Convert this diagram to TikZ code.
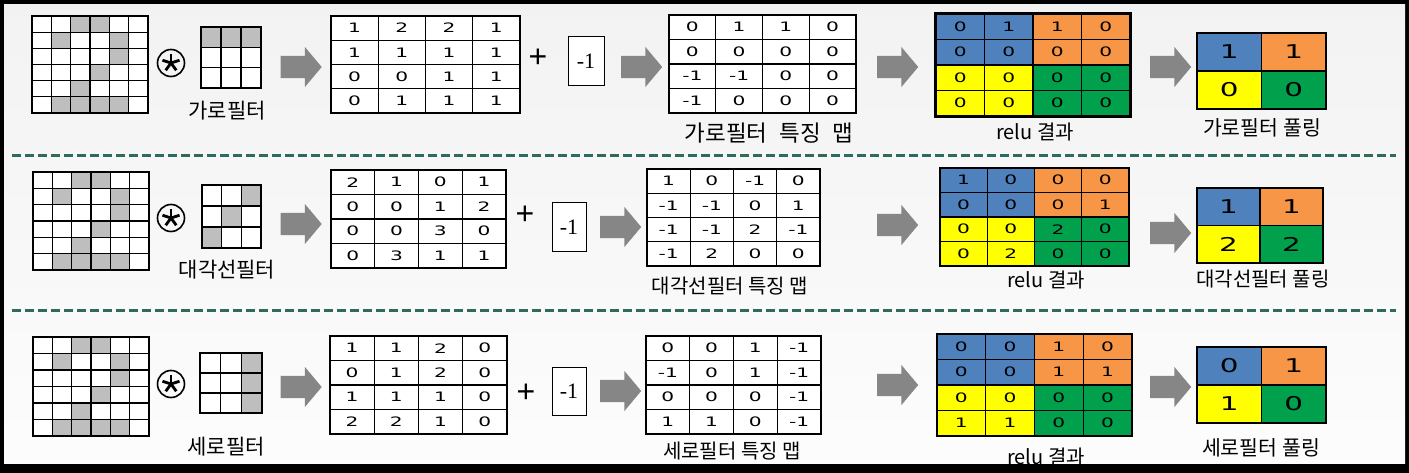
\documentclass[tikz,border=0pt]{standalone}
\usepackage{fontspec}
\setmainfont{Liberation Sans}
\newfontfamily\kofont{Noto Sans CJK KR}
\newfontfamily\numfont[FakeStretch=1.55]{DejaVu Sans}
\newfontfamily\serfont{Liberation Serif}
\usetikzlibrary{shapes.arrows}

\definecolor{pixgray}{HTML}{BEBEBE}
\colorlet{pix0}{white}
\colorlet{pix1}{pixgray}
\definecolor{quad0}{HTML}{4F81BD}
\definecolor{quad1}{HTML}{F79646}
\definecolor{quad2}{HTML}{FFFF00}
\definecolor{quad3}{HTML}{00A04C}
\definecolor{dashteal}{HTML}{2E6B5E}
\definecolor{arrowgray}{HTML}{868686}

\tikzset{
  numcell/.style={draw, line width=1.1pt, inner sep=0pt, fill=white,
    font=\numfont\fontsize{13}{13}\selectfont},
  relucell/.style={numcell, fill=quad\q},
  poolcell/.style={numcell, fill=quad\q, font=\numfont\fontsize{19}{19}\selectfont},
  pixcell/.style={draw, line width=1.1pt, inner sep=0pt},
  lab/.style={font=\kofont\fontsize{21}{21}\selectfont, inner sep=0pt},
  biasbox/.style={draw, line width=1pt, fill=white, inner sep=0pt,
    font=\serfont\fontsize{22}{22}\selectfont},
  plus/.style={font=\fontsize{32}{32}\selectfont, inner sep=0pt},
  convsym/.style={circle, draw, line width=1.6pt, minimum size=27pt, inner sep=0pt},
  blockarrow/.style={single arrow, fill=arrowgray, draw=none, inner xsep=0pt,
    inner ysep=11pt, minimum height=41pt, single arrow head extend=9pt,
    single arrow tip angle=100}
}
\newcommand{\wordgap}[1]{\hspace{#1em}}

% grid of numbers: name, left, top, cell width, cell height, half, style, rows
\newcommand{\numgrid}[8]{%
  \foreach \row [count=\rr] in {#8} {
    \foreach \v [count=\cc] in \row {
      \pgfmathtruncatemacro{\q}{(\rr>#6)*2+(\cc>#6)}
      \node[#7, minimum width=#4pt, minimum height=#5pt] (#1-\rr-\cc)
        at ({#2+(\cc-0.5)*#4}, {#3+(\rr-0.5)*#5}) {\v};
    }
  }
}
% grid of pixels: name, left, top, cell width, cell height, rows of 0/1
\newcommand{\pixgrid}[6]{%
  \foreach \row [count=\rr] in {#6} {
    \foreach \v [count=\cc] in \row {
      \node[pixcell, fill=pix\v, minimum width=#4pt, minimum height=#5pt] (#1-\rr-\cc)
        at ({#2+(\cc-0.5)*#4}, {#3+(\rr-0.5)*#5}) {};
    }
  }
}

\begin{document}
\begin{tikzpicture}[x=1pt, y=-1pt]
	% Frame and background
	\fill[black] (0,0) rectangle (1409,473);
	\shade[top color=gray!10, bottom color=gray!2] (4,5) rectangle (1405,463);

	% Dividers
	\draw[dashteal, line width=3pt, dash pattern=on 9pt off 4pt] (12,156) -- (1396,156);
	\draw[dashteal, line width=3pt, dash pattern=on 9pt off 4pt] (12,310) -- (1396,310);

	% Row 1: horizontal filter
	\pixgrid{img1}{32}{16}{19.33}{16.17}{{0,0,1,1,0,0},{0,1,0,0,1,0},{0,0,0,0,1,0},{0,0,0,1,0,0},{0,0,1,0,0,0},{0,1,1,1,1,0}}
	\node[convsym] (conv1) at (171,63) {};
	\foreach \a in {18,90,162,234,306}
		\draw[line width=2.8pt] (conv1.center) -- ++(\a:9pt);
	\pixgrid{filt1}{201}{27}{20}{20.33}{{1,1,1},{0,0,0},{0,0,0}}
	\node[lab] (flab1) at (227,111) {가로필터};
	\node[blockarrow] (arA1) at (296.5,67) {};
	\numgrid{mat1}{331}{16}{47.25}{24.25}{9}{numcell}{{1,2,2,1},{1,1,1,1},{0,0,1,1},{0,1,1,1}}
	\node[plus] (plus1) at (538,58) {+};
	\node[biasbox, minimum width=36pt, minimum height=49pt] (bias1) at (586,61.5) {-1};
	\node[blockarrow] (arB1) at (637,67) {};
	\numgrid{feat1}{669}{15}{46.75}{24.5}{9}{numcell}{{0,1,1,0},{0,0,0,0},{-1,-1,0,0},{-1,0,0,0}}
	\node[lab, font=\kofont\fontsize{22.5}{22.5}\selectfont] (featlab1) at (769,133) {가로필터\wordgap{0.3} 특징\wordgap{0.3} 맵};
	\node[blockarrow] (arC1) at (893,67) {};
	\numgrid{relu1}{936}{14}{48.5}{25.5}{2}{relucell}{{0,1,1,0},{0,0,0,0},{0,0,0,0},{0,0,0,0}}
	\draw[line width=3pt] (relu1-1-1.north west) rectangle (relu1-4-4.south east);
	\node[lab, font=\kofont\fontsize{20}{20}\selectfont] (relulab1) at (1035,132) {relu 결과};
	\node[blockarrow] (arD1) at (1166,67) {};
	\numgrid{pool1}{1197}{33}{64.5}{38}{1}{poolcell}{{1,1},{0,0}}
	\draw[line width=1.5pt] (pool1-1-1.north west) rectangle (pool1-2-2.south east);
	\node[lab, font=\kofont\fontsize{20.5}{20.5}\selectfont] (poollab1) at (1262,128) {가로필터 풀링};

	% Row 2: diagonal filter
	\pixgrid{img2}{33}{172}{19.33}{16.33}{{0,0,1,1,0,0},{0,1,0,0,1,0},{0,0,0,0,1,0},{0,0,0,1,0,0},{0,0,1,0,0,0},{0,1,1,1,1,0}}
	\node[convsym] (conv2) at (171,218) {};
	\foreach \a in {18,90,162,234,306}
		\draw[line width=2.8pt] (conv2.center) -- ++(\a:9pt);
	\pixgrid{filt2}{202}{185}{19.67}{21}{{0,0,1},{0,1,0},{1,0,0}}
	\node[lab] (flab2) at (227,270) {대각선필터};
	\node[blockarrow] (arA2) at (296.5,224) {};
	\numgrid{mat2}{331}{170}{43.75}{24.5}{9}{numcell}{{2,1,0,1},{0,0,1,2},{0,0,3,0},{0,3,1,1}}
	\node[plus] (plus2) at (525,215) {+};
	\node[biasbox, minimum width=34pt, minimum height=49pt] (bias2) at (569,227.5) {-1};
	\node[blockarrow] (arB2) at (616,227) {};
	\numgrid{feat2}{647}{169}{43.25}{24.25}{9}{numcell}{{1,0,-1,0},{-1,-1,0,1},{-1,-1,2,-1},{-1,2,0,0}}
	\node[lab, font=\kofont\fontsize{20}{20}\selectfont] (featlab2) at (730,286) {대각선필터 특징 맵};
	\node[blockarrow] (arC2) at (893,225) {};
	\numgrid{relu2}{940}{168}{47.25}{24.5}{2}{relucell}{{1,0,0,0},{0,0,0,1},{0,0,2,0},{0,2,0,0}}
	\node[lab, font=\kofont\fontsize{20}{20}\selectfont] (relulab2) at (1046,280) {relu 결과};
	\node[blockarrow] (arD2) at (1166,233) {};
	\numgrid{pool2}{1197}{188}{63}{37.5}{1}{poolcell}{{1,1},{2,2}}
	\draw[line width=1.5pt] (pool2-1-1.north west) rectangle (pool2-2-2.south east);
	\node[lab, font=\kofont\fontsize{20}{20}\selectfont] (poollab2) at (1263,279) {대각선필터 풀링};

	% Row 3: vertical filter
	\pixgrid{img3}{33}{337}{19.33}{16.5}{{0,0,1,1,0,0},{0,1,0,0,1,0},{0,0,0,0,1,0},{0,0,0,1,0,0},{0,0,1,0,0,0},{0,1,1,1,1,0}}
	\node[convsym] (conv3) at (171,384) {};
	\foreach \a in {18,90,162,234,306}
		\draw[line width=2.8pt] (conv3.center) -- ++(\a:9pt);
	\pixgrid{filt3}{200}{353}{20.67}{20}{{0,0,1},{0,0,1},{0,0,1}}
	\node[lab] (flab3) at (226,447) {세로필터};
	\node[blockarrow] (arA3) at (296.5,387) {};
	\numgrid{mat3}{330}{336}{44.25}{24.5}{9}{numcell}{{1,1,2,0},{0,1,2,0},{1,1,1,0},{2,2,1,0}}
	\node[plus] (plus3) at (526,393) {+};
	\node[biasbox, minimum width=34pt, minimum height=48pt] (bias3) at (569,391) {-1};
	\node[blockarrow] (arB3) at (616,391) {};
	\numgrid{feat3}{646}{336}{43.75}{24.5}{9}{numcell}{{0,0,1,-1},{-1,0,1,-1},{0,0,0,-1},{1,1,0,-1}}
	\node[lab, font=\kofont\fontsize{20}{20}\selectfont] (featlab3) at (732,451) {세로필터 특징 맵};
	\node[blockarrow] (arC3) at (893,385) {};
	\numgrid{relu3}{937}{334}{48.75}{25.5}{2}{relucell}{{0,0,1,0},{0,0,1,1},{0,0,0,0},{1,1,0,0}}
	\node[lab, font=\kofont\fontsize{20}{20}\selectfont] (relulab3) at (1046,457) {relu 결과};
	\node[blockarrow] (arD3) at (1166,387) {};
	\numgrid{pool3}{1197}{347}{64.5}{38}{1}{poolcell}{{0,1},{1,0}}
	\draw[line width=1.5pt] (pool3-1-1.north west) rectangle (pool3-2-2.south east);
	\node[lab, font=\kofont\fontsize{20.5}{20.5}\selectfont] (poollab3) at (1261,448) {세로필터 풀링};
\end{tikzpicture}
\end{document}
